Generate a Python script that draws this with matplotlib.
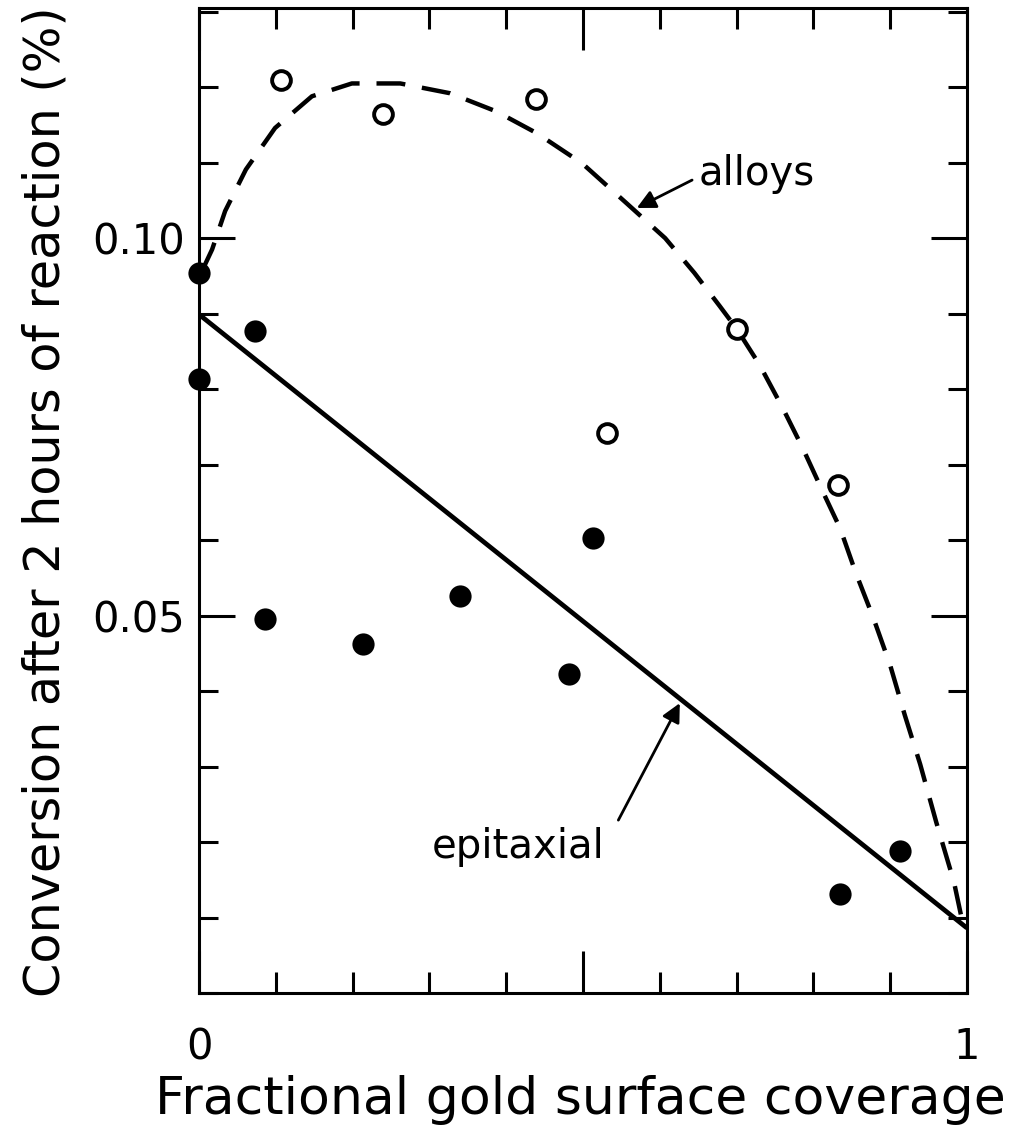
import matplotlib
matplotlib.use("Agg")
import matplotlib.pyplot as plt
from matplotlib.ticker import FixedLocator, MultipleLocator

# --- dados ---
epi_x = [0.000, 0.000, 0.073, 0.086, 0.214, 0.340, 0.482, 0.513, 0.835, 0.913]
epi_y = [0.0954, 0.0813, 0.0877, 0.0495, 0.0462, 0.0526, 0.0423, 0.0603, 0.0131, 0.0188]

alloy_x = [0.107, 0.240, 0.439, 0.531, 0.701, 0.832]
alloy_y = [0.1210, 0.1164, 0.1184, 0.0742, 0.0880, 0.0673]

# reta "epitaxial"
epi_line_x = [0.0, 1.0]
epi_line_y = [0.0899, 0.0086]

# curva tracejada "alloys" (pontos lidos ao longo da curva)
alloy_curve_x = [0.005, 0.017, 0.034, 0.061, 0.099, 0.147, 0.199, 0.262, 0.327,
                 0.387, 0.440, 0.499, 0.557, 0.607, 0.645, 0.678, 0.700, 0.730,
                 0.760, 0.786, 0.810, 0.835, 0.855, 0.878, 0.900, 0.919, 0.939,
                 0.960, 0.983, 0.993]
alloy_curve_y = [0.0959, 0.0985, 0.1036, 0.1091, 0.1146, 0.1188, 0.1205, 0.1205,
                 0.1192, 0.1168, 0.1139, 0.1099, 0.1046, 0.1000, 0.0954, 0.0910,
                 0.0880, 0.0832, 0.0775, 0.0722, 0.0669, 0.0615, 0.0557, 0.0497,
                 0.0434, 0.0368, 0.0303, 0.0226, 0.0147, 0.0099]

x_ticks = [0.0, 0.5, 1.0]
x_tick_labels = ["0", "", "1"]
y_ticks = [0.05, 0.10]
y_tick_labels = ["0.05", "0.10"]

fig = plt.figure(figsize=(10.16, 11.39), dpi=100)
ax = fig.add_axes([0.1959, 0.1282, 0.7559, 0.8648])

ax.plot(epi_line_x, epi_line_y, color="black", lw=3.4, solid_capstyle="butt")
ax.plot(alloy_curve_x, alloy_curve_y, color="black", lw=3.2,
        dashes=(6.5, 3.8), dash_capstyle="butt")

ax.plot(epi_x, epi_y, "o", color="black", markersize=16, markeredgewidth=0,
        clip_on=False, zorder=5)
ax.plot(alloy_x, alloy_y, "o", markerfacecolor="white", markeredgecolor="black",
        markersize=13.5, markeredgewidth=2.8, clip_on=False, zorder=5)

ax.set_xlim(0, 1)
ax.set_ylim(0, 0.1305)

# Ticks para dentro nos quatro lados
ax.xaxis.set_major_locator(FixedLocator(x_ticks))
ax.xaxis.set_minor_locator(MultipleLocator(0.1))
ax.yaxis.set_major_locator(FixedLocator(y_ticks))
ax.yaxis.set_minor_locator(MultipleLocator(0.01))
ax.set_xticklabels(x_tick_labels)
ax.set_yticklabels(y_tick_labels)

ax.tick_params(which="both", direction="in", top=True, right=True, width=2.2,
               color="black", labelsize=30)
ax.tick_params(axis="y", which="major", length=26, pad=10)
ax.tick_params(axis="y", which="minor", length=14)
ax.tick_params(axis="x", which="major", length=30, pad=24)
ax.tick_params(axis="x", which="minor", length=15)

for sp in ax.spines.values():
    sp.set_linewidth(2.2)

fig.text(46 / 1016, 1 - 502 / 1139, "Conversion after 2 hours of reaction (%)",
         rotation=90, ha="center", va="center", fontsize=35.5)
fig.text(580 / 1016, 1 - 1100 / 1139, "Fractional gold surface coverage",
         ha="center", va="center", fontsize=37.5)

# Anotações
ax.text(0.650, 0.1071, "alloys", fontsize=29, ha="left", va="baseline")
ax.annotate("", xy=(0.570, 0.1040), xytext=(0.642, 0.1077),
            arrowprops=dict(arrowstyle="-|>", lw=2, color="black",
                            mutation_scale=28, shrinkA=0, shrinkB=0))

ax.text(0.303, 0.0179, "epitaxial", fontsize=29, ha="left", va="baseline")
ax.annotate("", xy=(0.626, 0.0384), xytext=(0.546, 0.0229),
            arrowprops=dict(arrowstyle="-|>", lw=2, color="black",
                            mutation_scale=28, shrinkA=0, shrinkB=0))

fig.savefig("out.png", dpi=100)
